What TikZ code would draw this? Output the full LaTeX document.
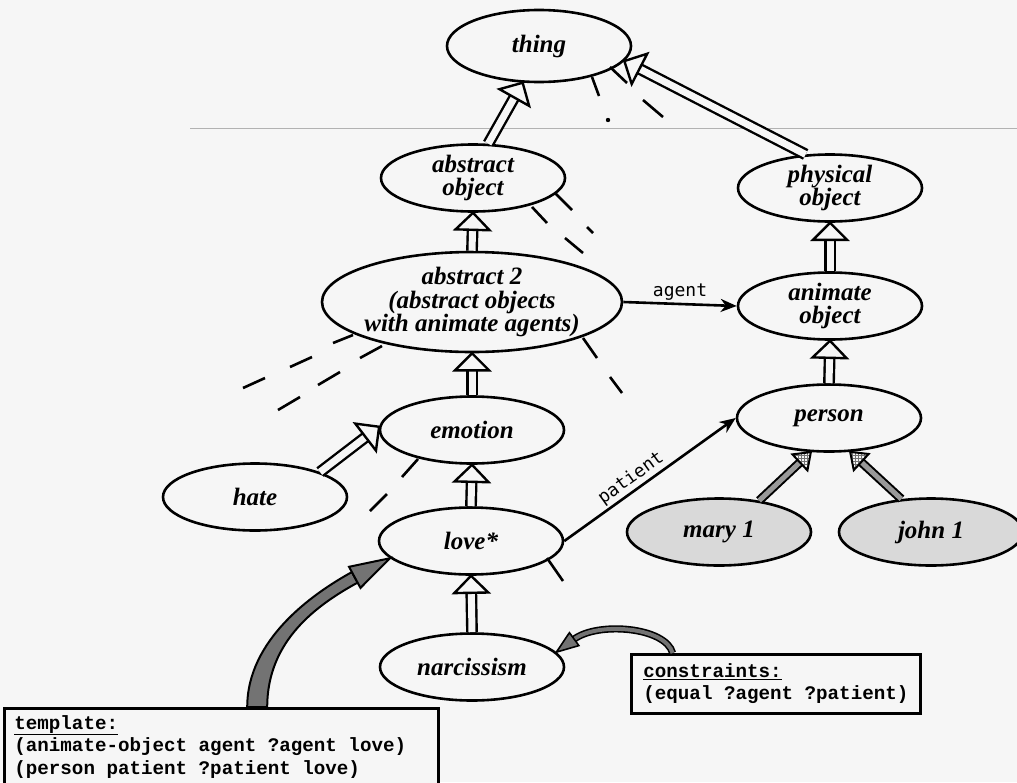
\documentclass[tikz,border=0pt]{standalone}
\usepackage{fontspec}
\newfontfamily\codefont{Liberation Mono}
\newfontfamily\linkfont{DejaVu Sans Mono}
\newfontfamily\conceptfont{Liberation Serif}
\usetikzlibrary{calc,shapes.geometric,arrows.meta,patterns}

\definecolor{paper}{gray}{0.965}

\tikzset{
  ctext/.style={font=\conceptfont\fontsize{25}{23.5}\selectfont\bfseries\itshape, align=center},
  concept/.style={ellipse, draw, line width=2.6pt, inner sep=0pt,
    minimum width=184pt, minimum height=67pt, label={[ctext]center:{#1}}},
  instance/.style={concept={#1}, fill=black!15},
  isashaft/.style={line width=2.4pt, double=paper, double distance=7pt},
  isahead/.style={line width=2.4pt, fill=paper, line join=miter},
  instshaft/.style={line width=2pt, double=black!40, double distance=5pt},
  insthead/.style={line width=2pt, pattern=grid, pattern color=black!55, line join=miter},
  rel/.style={line width=2.6pt, -{Stealth[length=16pt, width=13pt, inset=5pt]}},
  linklabel/.style={font=\linkfont\fontsize{18}{18}\selectfont, inner sep=2pt},
  elide/.style={line width=2.6pt},
  codebox/.style={draw, line width=2.8pt, fill=paper,
    font=\codefont\fontsize{19.2}{22.5}\selectfont\bfseries},
  bigshaft/.style={line width=2pt, fill=black!55, line join=round},
  smallshaft/.style={line width=1.6pt, double=black!55, double distance=4pt},
  dkhead/.style={line width=2pt, fill=black!55, line join=miter},
}

% open-headed "is-a" link: double shaft plus hollow triangle
\newcommand\isalink[2]{%
  \draw[isashaft, shorten >=17pt] (#1) -- (#2);
  \coordinate (isaT) at (#2);
  \coordinate (isaB) at ($(#2)!17pt!(#1)$);
  \draw[isahead] (isaT) -- ($(isaB)!17pt!90:(isaT)$) -- ($(isaB)!17pt!-90:(isaT)$) -- cycle;}

% hatched "instance-of" link
\newcommand\instlink[2]{%
  \draw[instshaft, shorten >=15pt] (#1) -- (#2);
  \coordinate (insT) at (#2);
  \coordinate (insB) at ($(#2)!15pt!(#1)$);
  \path[fill=paper] (insT) -- ($(insB)!11pt!90:(insT)$) -- ($(insB)!11pt!-90:(insT)$) -- cycle;
  \draw[insthead] (insT) -- ($(insB)!11pt!90:(insT)$) -- ($(insB)!11pt!-90:(insT)$) -- cycle;}

\begin{document}
\begin{tikzpicture}[x=1pt, y=-1pt]
\useasboundingbox (0,0) rectangle (1017,782);
\fill[paper] (0,0) rectangle (1017,782);
\draw[black!30, line width=1pt] (190,128) -- (1017,128);

% concepts
\node[concept={thing}, minimum height=72pt] (thing) at (539,46) {};
\node[concept={abstract\\object}] (absobj) at (473,178) {};
\node[concept={physical\\object}] (phys) at (830,188) {};
\node[concept={abstract 2\\(abstract objects\\with animate agents)},
      minimum width=300pt, minimum height=100pt] (abs2) at (472,302) {};
\node[concept={animate\\object}] (animate) at (830,306) {};
\node[concept={emotion}] (emotion) at (472,430) {};
\node[concept={person}] (person) at (829,418) {};
\node[concept={hate}] (hate) at (255,497) {};
\node[concept={love*}] (love) at (471,541) {};
\node[instance={mary 1}] (mary) at (719,532) {};
\node[instance={john 1}] (john) at (931,532) {};
\node[concept={narcissism}] (narc) at (472,667) {};

% annotation boxes
\node[codebox, anchor=north west, inner xsep=10pt, inner ysep=5pt]
  (tpl) at (3,707)
  {\makebox[414pt][l]{\begin{tabular}{@{}l@{}}\underline{template:}\\
   (animate-object agent ?agent love)\\(person patient ?patient love)\end{tabular}}};
\node[codebox, anchor=north west, inner xsep=12pt, inner ysep=7pt]
  (cons) at (630,653)
  {\begin{tabular}{@{}l@{}}\underline{constraints:}\\(equal ?agent ?patient)\end{tabular}};

% is-a hierarchy
\isalink{absobj.66}{thing.246}
\isalink{phys.126}{thing.-10}
\isalink{abs2.north}{absobj.south}
\isalink{emotion.north}{abs2.south}
\isalink{hate.21}{emotion.178}
\isalink{love.north}{emotion.south}
\isalink{narc.north}{love.south}
\isalink{animate.north}{phys.south}
\isalink{person.north}{animate.south}
\instlink{mary.38}{person.242}
\instlink{john.132}{person.-58}

% role links
\draw[rel] (abs2.east) -- node[linklabel, above] {agent} (animate.west);
\draw[rel] (love.east) -- node[linklabel, pos=0.43, sloped, above] {patient} (person.west);

% elided subclasses
\draw[elide] (592,77) -- (599,96);
\fill (608,120) circle (2.2pt);
\draw[elide] (610,67) -- (627,83) (643,100) -- (663,117);
\draw[elide] (532,207) -- (547,223) (565,238) -- (583,253);
\draw[elide] (555,193) -- (572,210) (587,227) -- (593,233);
\draw[elide] (333,343) -- (353,335) (290,367) -- (312,357) (243,388) -- (265,378);
\draw[elide] (360,358) -- (382,346) (318,385) -- (340,372) (278,410) -- (300,397);
\draw[elide] (583,338) -- (597,358) (610,377) -- (622,393);
\draw[elide] (418,459) -- (402,477) (387,494) -- (370,511);
\draw[elide] (547,558) -- (563,581);

% template attached to love*: tapered shaft
\coordinate (tplout) at ($(tpl.north west)!0.582!(tpl.north east)$);
\coordinate (tplT) at (love.192);
\coordinate (tplB) at ($(tplT)+(-35.2,19.1)$);
\coordinate (tplS1) at ($(tplout)+(-10,0)$);
\coordinate (tplS2) at ($(tplout)+(10,0)$);
\coordinate (tplE1) at ($(tplB)!6pt!90:(tplT)$);
\coordinate (tplE2) at ($(tplB)!6pt!-90:(tplT)$);
\draw[bigshaft] (tplS1) .. controls +(0,-67) and ($(tplE1)+(-40,22)$) .. (tplE1)
  -- (tplE2) .. controls ($(tplE2)+(-40,22)$) and ($(tplS2)+(0,-67)$) .. (tplS2) -- cycle;
\draw[dkhead] (tplT) -- ($(tplB)!12pt!90:(tplT)$) -- ($(tplB)!12pt!-90:(tplT)$) -- cycle;

% constraints attached to narcissism
\coordinate (conout) at ($(cons.north west)!0.146!(cons.north east)$);
\coordinate (conT) at (narc.10);
\coordinate (conB) at ($(conT)+(17.8,-13)$);
\draw[smallshaft] (conout) .. controls +(-7,-26) and ($(conB)+(24,-17.7)$) .. (conB);
\draw[dkhead, line width=1.6pt] (conT) -- ($(conB)!8pt!90:(conT)$) -- ($(conB)!8pt!-90:(conT)$) -- cycle;
\end{tikzpicture}
\end{document}
